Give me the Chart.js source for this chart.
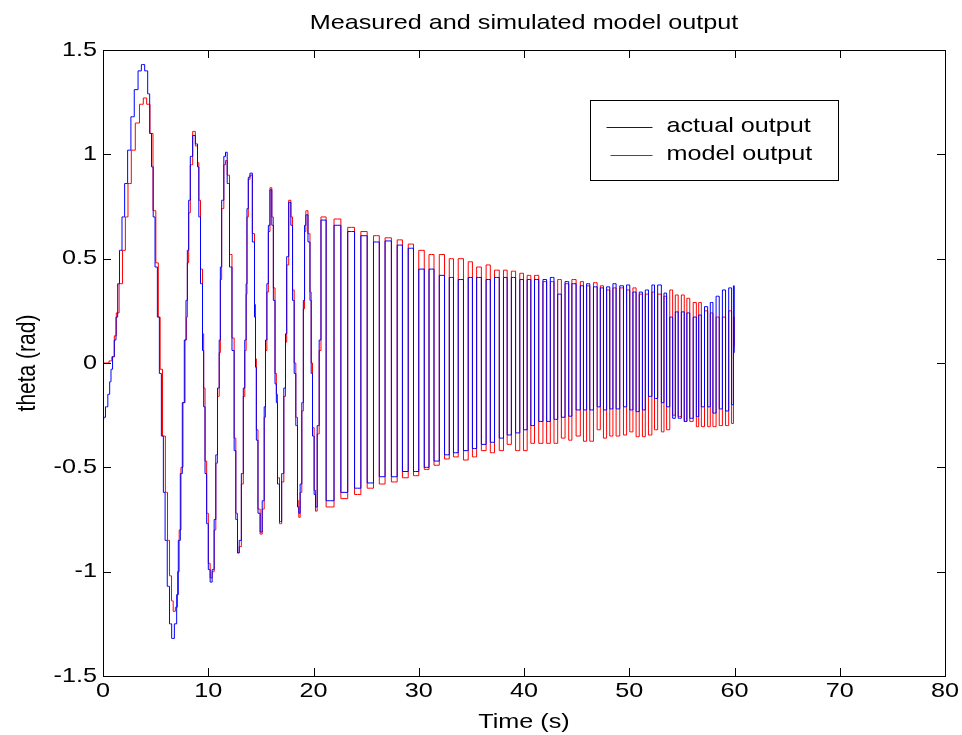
<!DOCTYPE html>
<html>
<head>
<meta charset="utf-8">
<script src="https://cdn.jsdelivr.net/npm/chart.js@4.4.1/dist/chart.umd.min.js"></script>
<style>
  html, body { margin: 0; padding: 0; background: #fff; }
  #plot { display: block; }
</style>
</head>
<body>
<canvas id="plot" width="962" height="735"></canvas>
<script>
// first seconds, where the two traces differ in timing
const actualEarlyTime = [0, 0.02, 0.12, 0.35, 0.57, 0.7, 0.82, 1.0, 1.14, 1.33, 1.46, 1.68, 1.93, 2.18, 2.5, 2.8, 3.14, 3.52, 3.77, 4.15, 4.34, 4.53, 4.69, 4.85, 5.04, 5.29, 5.42, 5.67, 5.8, 6.0, 6.21, 6.43, 6.62, 6.94, 7.06, 7.25, 7.44, 7.63, 7.82];
const actualEarly = [0.30, -0.27, -0.26, -0.21, -0.15, -0.09, -0.03, 0.03, 0.11, 0.22, 0.38, 0.54, 0.70, 0.86, 1.02, 1.18, 1.31, 1.40, 1.43, 1.40, 1.29, 1.10, 0.94, 0.70, 0.46, 0.22, -0.05, -0.35, -0.62, -0.85, -1.07, -1.25, -1.32, -1.25, -1.11, -0.85, -0.53, -0.19, 0.11];

const modelEarlyTime = [0, 0.44, 0.7, 0.98, 1.17, 1.36, 1.7, 2.0, 2.25, 2.5, 2.88, 3.26, 3.67, 3.99, 4.31, 4.62, 4.88, 5.16, 5.35, 5.51, 5.8, 6.05, 6.21, 6.43, 6.59, 6.75, 7.0, 7.16, 7.32, 7.5, 7.7, 7.89];
const modelEarly = [0, 0, 0.01, 0.03, 0.13, 0.24, 0.38, 0.54, 0.70, 0.86, 1.02, 1.15, 1.24, 1.27, 1.24, 1.10, 0.73, 0.48, 0.22, -0.03, -0.35, -0.62, -0.85, -1.02, -1.14, -1.19, -1.17, -1.0, -0.80, -0.5, -0.19, 0.11];

const midTime = [7.95, 8.08, 8.2, 8.39, 8.65, 8.9, 9.06, 9.15, 9.38, 9.53, 9.6, 9.79, 9.91, 10.1, 10.26, 10.48, 10.64, 10.8, 10.96, 11.12, 11.18, 11.37, 11.59, 11.69, 11.91, 12.13, 12.38, 12.54, 12.7, 12.86, 13.02, 13.27, 13.39, 13.55, 13.65, 13.71, 13.9, 14.03, 14.35, 14.44, 14.54, 14.6, 14.85, 15.01, 15.24, 15.39, 15.49, 15.65, 15.77, 15.96, 16.12, 16.25, 16.44, 16.5, 16.66, 16.88, 17.07, 17.29, 17.39, 17.52, 17.77, 17.93, 18.09, 18.24, 18.4, 18.56, 18.65, 18.81, 18.97, 19.1, 19.2, 19.35, 19.6, 19.73, 19.83, 19.98, 20.14, 20.24, 20.46, 20.62];
const midActual = [0.30, 0.54, 0.78, 0.99, 1.09, 1.05, 0.94, 0.70, 0.38, 0.06, -0.21, -0.53, -0.77, -0.99, -1.05, -0.99, -0.75, -0.44, -0.12, 0.11, 0.46, 0.78, 0.99, 1.01, 0.86, 0.46, 0.06, -0.42, -0.75, -0.91, -0.85, -0.53, -0.12, 0.11, 0.38, 0.74, 0.89, 0.91, 0.58, 0.22, -0.02, -0.37, -0.72, -0.81, -0.66, -0.21, 0.11, 0.38, 0.66, 0.83, 0.66, 0.30, -0.10, -0.19, -0.58, -0.76, -0.53, -0.12, 0.14, 0.51, 0.77, 0.66, 0.30, -0.05, -0.30, -0.69, -0.72, -0.58, -0.19, 0.30, 0.66, 0.71, 0.58, 0.30, -0.05, -0.35, -0.63, -0.69, -0.30, 0.11];
const midModel = [0.22, 0.48, 0.72, 0.95, 1.11, 1.04, 0.96, 0.78, 0.45, 0.14, -0.12, -0.47, -0.72, -0.96, -1.03, -1.0, -0.80, -0.48, -0.16, 0.05, 0.40, 0.74, 0.95, 0.97, 0.90, 0.52, 0.12, -0.36, -0.72, -0.91, -0.88, -0.58, -0.16, 0.06, 0.33, 0.70, 0.88, 0.90, 0.62, 0.28, 0.02, -0.32, -0.70, -0.82, -0.70, -0.26, 0.06, 0.34, 0.63, 0.84, 0.70, 0.36, -0.05, -0.15, -0.55, -0.77, -0.57, -0.16, 0.10, 0.47, 0.78, 0.70, 0.35, 0.0, -0.26, -0.66, -0.74, -0.62, -0.23, 0.26, 0.63, 0.73, 0.62, 0.34, 0.0, -0.31, -0.61, -0.71, -0.34, 0.06];

// 20.8 s .. 60 s, alternating peaks and troughs
const lateTime = [20.8, 21.6, 22.3, 22.9, 23.6, 24.2, 24.8, 25.4, 26.0, 26.5, 27.1, 27.7, 28.2, 28.7, 29.3, 29.7, 30.3, 30.75, 31.2, 31.7, 32.2, 32.7, 33.1, 33.5, 34.0, 34.5, 34.9, 35.3, 35.7, 36.2, 36.6, 37.0, 37.4, 37.9, 38.2, 38.6, 39.0, 39.4, 39.8, 40.1, 40.5, 40.8, 41.2, 41.6, 42.0, 42.3, 42.7, 43.0, 43.4, 43.7, 44.1, 44.4, 44.7, 45.2, 45.5, 45.8, 46.1, 46.4, 46.8, 47.1, 47.4, 47.7, 48.0, 48.3, 48.6, 48.9, 49.3, 49.6, 49.9, 50.2, 50.5, 50.8, 51.1, 51.4, 51.65, 52.0, 52.3, 52.5, 52.9, 53.2, 53.4, 53.7, 54.0, 54.25, 54.5, 54.8, 55.1, 55.35, 55.6, 55.9, 56.25, 56.5, 56.7, 57.0, 57.3, 57.6, 57.8, 58.1, 58.4, 58.7, 59.0, 59.3, 59.6, 59.85, 59.95, 60.0];
const lateActual = [0.685, -0.66, 0.66, -0.62, 0.63, -0.60, 0.61, -0.575, 0.58, -0.545, 0.585, -0.545, 0.565, -0.52, 0.55, -0.52, 0.45, -0.50, 0.45, -0.47, 0.42, -0.44, 0.41, -0.43, 0.40, -0.42, 0.41, -0.41, 0.41, -0.39, 0.40, -0.38, 0.41, -0.36, 0.41, -0.345, 0.41, -0.335, 0.40, -0.32, 0.40, -0.30, 0.40, -0.28, 0.40, -0.28, 0.41, -0.27, 0.33, -0.26, 0.39, -0.255, 0.38, -0.225, 0.37, -0.225, 0.38, -0.225, 0.365, -0.21, 0.36, -0.225, 0.365, -0.22, 0.38, -0.22, 0.37, -0.21, 0.374, -0.225, 0.34, -0.233, 0.34, -0.225, 0.35, -0.16, 0.374, -0.17, 0.374, -0.19, 0.335, -0.21, 0.22, -0.265, 0.245, -0.265, 0.245, -0.28, 0.24, -0.265, 0.22, -0.257, 0.23, -0.21, 0.27, -0.21, 0.29, -0.24, 0.32, -0.22, 0.35, -0.23, 0.36, -0.2, 0.37, 0.05];
const lateModel = [0.70, -0.69, 0.69, -0.65, 0.65, -0.63, 0.63, -0.60, 0.61, -0.58, 0.60, -0.57, 0.59, -0.55, 0.57, -0.54, 0.54, -0.51, 0.52, -0.49, 0.52, -0.46, 0.50, -0.45, 0.50, -0.465, 0.485, -0.45, 0.46, -0.42, 0.47, -0.43, 0.445, -0.42, 0.445, -0.39, 0.44, -0.42, 0.43, -0.42, 0.42, -0.385, 0.42, -0.385, 0.39, -0.385, 0.39, -0.385, 0.40, -0.36, 0.38, -0.37, 0.40, -0.35, 0.39, -0.375, 0.37, -0.375, 0.385, -0.32, 0.37, -0.36, 0.35, -0.35, 0.36, -0.35, 0.36, -0.345, 0.35, -0.33, 0.36, -0.353, 0.33, -0.353, 0.33, -0.345, 0.34, -0.32, 0.33, -0.33, 0.32, -0.32, 0.35, -0.25, 0.326, -0.257, 0.326, -0.28, 0.31, -0.28, 0.29, -0.305, 0.29, -0.305, 0.25, -0.305, 0.24, -0.305, 0.22, -0.30, 0.22, -0.30, 0.25, -0.29, 0.22, 0.08];

const xTicks = [0, 10, 20, 30, 40, 50, 60, 70, 80];
const yTicks = [-1.5, -1, -0.5, 0, 0.5, 1, 1.5];

const FONT = 'Liberation Sans, Arial, Helvetica, sans-serif';
const FONT_SIZE = 21;
const TEXT_STRETCH = 1.2; // the reference text is wider than it is tall

function toPoints(times, values) {
  return times.map((t, i) => ({ x: t, y: values[i] }));
}

const actualData = toPoints(actualEarlyTime.concat(midTime, lateTime), actualEarly.concat(midActual, lateActual));
const modelData = toPoints(modelEarlyTime.concat(midTime, lateTime), modelEarly.concat(midModel, lateModel));

// widen every glyph run horizontally (in screen space) around its anchor point
const canvas = document.getElementById('plot');
const ctx2d = canvas.getContext('2d');
const rawFillText = ctx2d.fillText.bind(ctx2d);
ctx2d.fillText = function (text, x, y, maxWidth) {
  const m = this.getTransform();
  const p = m.transformPoint(new DOMPoint(x, y));
  const s = new DOMMatrix().translate(p.x, p.y).scale(TEXT_STRETCH, 1).translate(-p.x, -p.y).multiply(m);
  this.setTransform(s);
  if (maxWidth === undefined) rawFillText(text, x, y);
  else rawFillText(text, x, y, maxWidth);
  this.setTransform(m);
};

// title, box round the axes, inward ticks on all four sides, legend inside the plot
const matlabFrame = {
  id: 'matlabFrame',
  afterDraw(chart) {
    const ctx = chart.ctx;
    const a = chart.chartArea;
    const xs = chart.scales.x;
    const ys = chart.scales.y;
    const tl = 8;
    ctx.save();

    ctx.fillStyle = '#000';
    ctx.font = FONT_SIZE + 'px ' + FONT;
    ctx.textAlign = 'center';
    ctx.textBaseline = 'middle';
    ctx.fillText('Measured and simulated model output', (a.left + a.right) / 2, 23);

    ctx.strokeStyle = '#000';
    ctx.lineWidth = 1;
    ctx.beginPath();
    ctx.rect(Math.round(a.left) + 0.5, Math.round(a.top) + 0.5, Math.round(a.right - a.left), Math.round(a.bottom - a.top));
    xTicks.forEach((v) => {
      const px = Math.round(xs.getPixelForValue(v)) + 0.5;
      ctx.moveTo(px, a.bottom);
      ctx.lineTo(px, a.bottom - tl);
      ctx.moveTo(px, a.top);
      ctx.lineTo(px, a.top + tl);
    });
    yTicks.forEach((v) => {
      const py = Math.round(ys.getPixelForValue(v)) + 0.5;
      ctx.moveTo(a.left, py);
      ctx.lineTo(a.left + tl, py);
      ctx.moveTo(a.right, py);
      ctx.lineTo(a.right - tl, py);
    });
    ctx.stroke();

    // legend
    const lx = 590.5, ly = 100.5, lw = 248, lh = 80;
    ctx.fillStyle = '#fff';
    ctx.fillRect(lx, ly, lw, lh);
    ctx.strokeRect(lx, ly, lw, lh);
    ctx.textAlign = 'left';
    chart.data.datasets.forEach((ds, i) => {
      const yy = ly + 26 + i * 28;
      ctx.strokeStyle = ds.borderColor;
      ctx.beginPath();
      ctx.moveTo(lx + (i === 0 ? 16 : 20), Math.round(yy) + 0.5);
      ctx.lineTo(lx + 62, Math.round(yy) + 0.5);
      ctx.stroke();
      ctx.fillStyle = '#000';
      ctx.fillText(ds.label, lx + 76, yy);
    });
    ctx.restore();
  },
};

new Chart(canvas, {
  type: 'line',
  data: {
    datasets: [
      {
        label: 'actual output',
        data: actualData,
        borderColor: '#0000ff',
        borderWidth: 1,
        pointRadius: 0,
        stepped: 'middle',
        fill: false,
      },
      {
        label: 'model output',
        data: modelData,
        borderColor: '#ff0000',
        borderWidth: 1,
        pointRadius: 0,
        stepped: 'middle',
        fill: false,
      },
    ],
  },
  options: {
    responsive: false,
    animation: false,
    devicePixelRatio: 1,
    layout: { padding: { top: 50, right: 17, bottom: 0, left: 0 } },
    scales: {
      x: {
        type: 'linear',
        min: 0,
        max: 80,
        afterBuildTicks: (s) => { s.ticks = xTicks.map((v) => ({ value: v })); },
        afterFit: (s) => { s.height = 59; },
        ticks: { callback: (v) => String(v), color: '#000', font: { family: FONT, size: FONT_SIZE }, padding: 3, maxRotation: 0 },
        grid: { display: false, drawTicks: false },
        border: { display: true, color: '#000', width: 1 },
        title: { display: true, text: 'Time (s)', color: '#000', font: { family: FONT, size: FONT_SIZE }, padding: { top: 0, bottom: 0 } },
      },
      y: {
        min: -1.5,
        max: 1.5,
        afterBuildTicks: (s) => { s.ticks = yTicks.map((v) => ({ value: v })); },
        afterFit: (s) => { s.width = 103; },
        ticks: { callback: (v) => String(v), color: '#000', font: { family: FONT, size: FONT_SIZE }, padding: 6 },
        grid: { display: false, drawTicks: false },
        border: { display: true, color: '#000', width: 1 },
        title: { display: true, text: 'theta (rad)', color: '#000', font: { family: FONT, size: FONT_SIZE }, padding: { top: 15, bottom: 15 } },
      },
    },
    plugins: {
      legend: { display: false },
      tooltip: { enabled: false },
      title: { display: false },
    },
  },
  plugins: [matlabFrame],
});
</script>
</body>
</html>
